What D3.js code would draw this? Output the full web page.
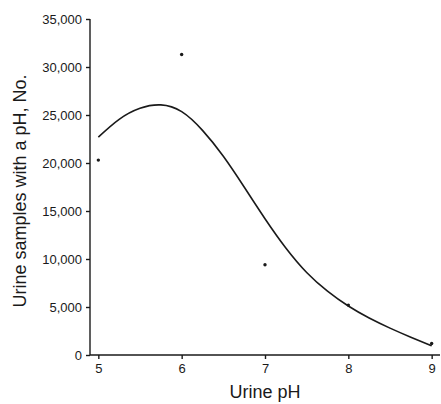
<!DOCTYPE html>
<html>
<head>
<meta charset="utf-8">
<script src="https://cdn.jsdelivr.net/npm/d3@7"></script>
<style>
  html, body { margin: 0; padding: 0; background: #fff; }
  svg { display: block; font-family: "Liberation Sans", Arial, sans-serif; }
</style>
</head>
<body>
<svg id="chart" width="441" height="404"></svg>
<script>
// ---------- DATA ----------
const phTicks = [5, 6, 7, 8, 9];
const countTicks = [0, 5000, 10000, 15000, 20000, 25000, 30000, 35000];

// observed counts (dots)
const obsPh = [5, 6, 7, 8, 9];
const obsCount = [20300, 31300, 9400, 5200, 1200];

// fitted curve
const fitPh = [5, 5.25, 5.5, 5.75, 6, 6.25, 6.5, 6.75, 7, 7.25, 7.5, 7.75, 8, 8.25, 8.5, 8.75, 9];
const fitCount = [22700, 24550, 25700, 26050, 25350, 23400, 20700, 17500, 14200, 11150, 8600, 6650, 5100, 3850, 2800, 1850, 950];

// ---------- LAYOUT ----------
const svg = d3.select("#chart");
const ink = "#1a1a1a";

const x = d3.scaleLinear().domain([4.9, 9.1]).range([90, 440]);
const y = d3.scaleLinear().domain([0, 35000]).range([355, 19]);

// y axis
const yAxis = d3.axisLeft(y).tickValues(countTicks).tickSize(4).tickPadding(4)
  .tickFormat(d3.format(","));
const gy = svg.append("g").attr("transform", "translate(90,0)").call(yAxis);
gy.select(".domain").attr("d", `M0,${y(35000)}V${y(0)}`);

// x axis
const xAxis = d3.axisBottom(x).tickValues(phTicks).tickSize(4).tickPadding(5)
  .tickFormat(d3.format("d"));
const gx = svg.append("g").attr("transform", "translate(0,355)").call(xAxis);
gx.select(".domain").attr("d", `M90,0H440`);

svg.selectAll(".domain, .tick line").attr("stroke", ink).attr("stroke-width", 1.4);
svg.selectAll(".tick text").attr("fill", ink).style("font-size", "13px")
  .style("font-family", "'Liberation Sans', Arial, sans-serif");

// axis titles
svg.append("text")
  .attr("x", x(7)).attr("y", 398)
  .attr("text-anchor", "middle")
  .attr("fill", ink).style("font-size", "18px")
  .text("Urine pH");

svg.append("text")
  .attr("transform", "translate(26,191) rotate(-90)")
  .attr("text-anchor", "middle")
  .attr("fill", ink).style("font-size", "18px")
  .text("Urine samples with a pH, No.");

// fitted curve
const fit = fitPh.map((p, i) => [p, fitCount[i]]);
svg.append("path")
  .datum(fit)
  .attr("fill", "none")
  .attr("stroke", ink)
  .attr("stroke-width", 1.6)
  .attr("d", d3.line().x(d => x(d[0])).y(d => y(d[1])).curve(d3.curveNatural));

// observed points
svg.selectAll("circle.obs")
  .data(obsPh.map((p, i) => [p, obsCount[i]]))
  .join("circle")
  .attr("class", "obs")
  .attr("cx", d => x(d[0]))
  .attr("cy", d => y(d[1]))
  .attr("r", 1.7)
  .attr("fill", ink);
</script>
</body>
</html>
